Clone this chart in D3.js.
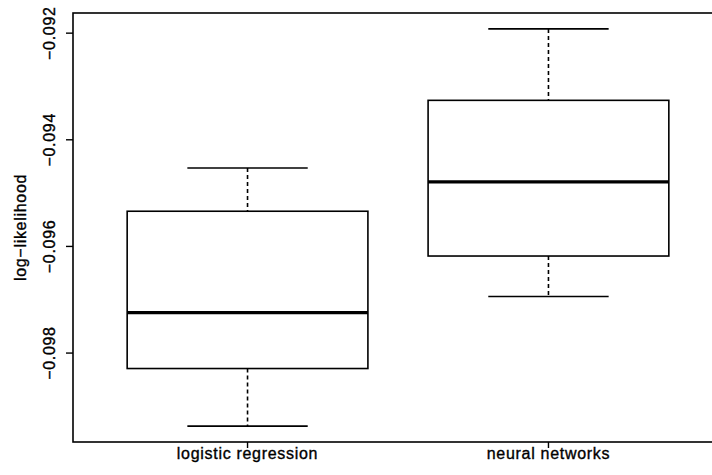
<!DOCTYPE html>
<html>
<head>
<meta charset="utf-8">
<script src="https://cdn.jsdelivr.net/npm/d3@7"></script>
<style>
  body { margin: 0; background: #fff; }
  text { font-family: "Liberation Sans", Arial, Helvetica, sans-serif; font-size: 16px; letter-spacing: 0.7px; fill: #000; stroke: #000; stroke-width: 0.35px; }
</style>
</head>
<body>
<svg id="chart" width="712" height="475"></svg>
<script>
// boxplot stats
const groups = ["logistic regression", "neural networks"];
const whiskerLow = [-0.09937, -0.09694];
const q1 = [-0.09829, -0.09618];
const median = [-0.09724, -0.09479];
const q3 = [-0.09534, -0.09326];
const whiskerHigh = [-0.09453, -0.09192];
const yTicks = [-0.092, -0.094, -0.096, -0.098];

const svg = d3.select("#chart"),
      m = {top: 13, left: 73, bottom: 442, right: 723};

// R style axis range: data range plus 4% each side
const lo = d3.min(whiskerLow), hi = d3.max(whiskerHigh), pad = (hi - lo) * 0.04;
const y = d3.scaleLinear().domain([lo - pad, hi + pad]).range([m.bottom, m.top]);
const x = d3.scaleLinear().domain([0.5 - 0.08, groups.length + 0.5 + 0.08]).range([m.left, m.right]);

const fmt = v => d3.format(".3f")(v).replace("-", "\u2212");

// boxes
const g = svg.append("g");
groups.forEach((name, i) => {
  const c = i + 1;
  const b = g.append("g").attr("fill", "none").attr("stroke", "#000");
  // whiskers
  b.append("line").attr("x1", x(c)).attr("x2", x(c)).attr("y1", y(whiskerHigh[i])).attr("y2", y(q3[i]))
    .attr("stroke-width", 1.6).attr("stroke-dasharray", "4,3");
  b.append("line").attr("x1", x(c)).attr("x2", x(c)).attr("y1", y(q1[i])).attr("y2", y(whiskerLow[i]))
    .attr("stroke-width", 1.6).attr("stroke-dasharray", "4,3");
  // caps
  [whiskerHigh[i], whiskerLow[i]].forEach(v => {
    b.append("line").attr("x1", x(c - 0.2)).attr("x2", x(c + 0.2)).attr("y1", y(v)).attr("y2", y(v))
      .attr("stroke-width", 1.6);
  });
  // box
  b.append("rect").attr("x", x(c - 0.4)).attr("width", x(c + 0.4) - x(c - 0.4))
    .attr("y", y(q3[i])).attr("height", y(q1[i]) - y(q3[i])).attr("stroke-width", 1.6);
  // median
  b.append("line").attr("x1", x(c - 0.4)).attr("x2", x(c + 0.4)).attr("y1", y(median[i])).attr("y2", y(median[i]))
    .attr("stroke-width", 3.2);
});

// frame
svg.append("rect").attr("x", m.left).attr("y", m.top).attr("width", m.right - m.left).attr("height", m.bottom - m.top)
  .attr("fill", "none").attr("stroke", "#000").attr("stroke-width", 1.6);

// y axis
const ya = svg.append("g");
yTicks.forEach(t => {
  ya.append("line").attr("x1", m.left - 7).attr("x2", m.left).attr("y1", y(t)).attr("y2", y(t))
    .attr("stroke", "#000").attr("stroke-width", 1.4);
  ya.append("text").attr("transform", `translate(55,${y(t)}) rotate(-90)`)
    .attr("text-anchor", "middle").text(fmt(t));
});
svg.append("text").attr("transform", `translate(26,${(m.top + m.bottom) / 2}) rotate(-90)`)
  .attr("text-anchor", "middle").text("log\u2212likelihood");

// x axis
groups.forEach((name, i) => {
  svg.append("line").attr("x1", x(i + 1)).attr("x2", x(i + 1)).attr("y1", m.bottom).attr("y2", m.bottom + 6)
    .attr("stroke", "#000").attr("stroke-width", 1.4);
  svg.append("text").attr("x", x(i + 1)).attr("y", 459).attr("text-anchor", "middle").text(name);
});
</script>
</body>
</html>
